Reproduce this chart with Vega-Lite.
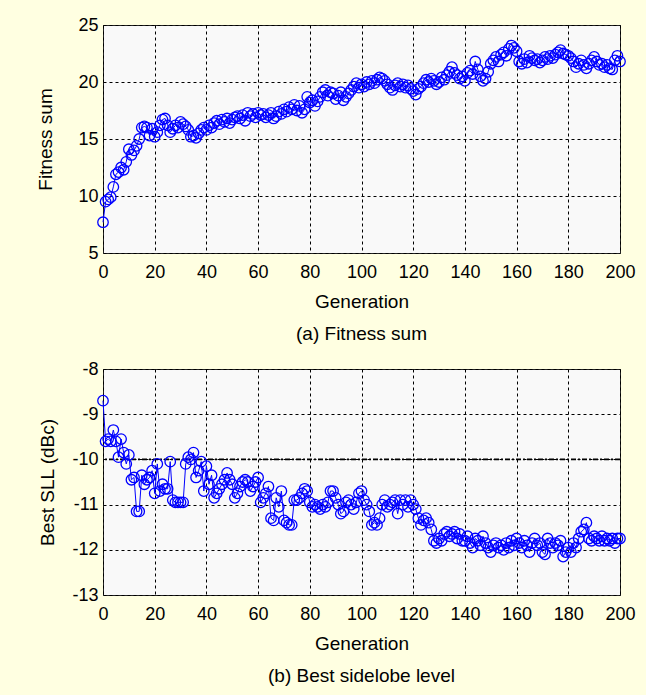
{
  "$schema": "https://vega.github.io/schema/vega-lite/v6.json",
  "background": "#FFFFE1",
  "padding": {"left": 36, "top": 15, "right": 13, "bottom": 12},
  "datasets": {
    "fitness": [
      {"g":0,"v":7.7},{"g":1,"v":9.5},{"g":2,"v":9.7},{"g":3,"v":9.9},{"g":4,"v":10.8},{"g":5,"v":11.9},{"g":6,"v":12.1},{"g":7,"v":12.5},{"g":8,"v":12.3},{"g":9,"v":13.0},
      {"g":10,"v":14.1},{"g":11,"v":13.6},{"g":12,"v":14.0},{"g":13,"v":14.4},{"g":14,"v":15.0},{"g":15,"v":16.0},{"g":16,"v":16.1},{"g":17,"v":16.0},{"g":18,"v":15.3},{"g":19,"v":15.9},
      {"g":20,"v":15.2},{"g":21,"v":15.6},{"g":22,"v":16.2},{"g":23,"v":16.7},{"g":24,"v":16.8},{"g":25,"v":16.2},{"g":26,"v":15.6},{"g":27,"v":15.9},{"g":28,"v":16.2},{"g":29,"v":16.0},
      {"g":30,"v":16.5},{"g":31,"v":16.3},{"g":32,"v":16.1},{"g":33,"v":15.8},{"g":34,"v":15.2},{"g":35,"v":15.3},{"g":36,"v":15.1},{"g":37,"v":15.5},{"g":38,"v":15.8},{"g":39,"v":16.0},
      {"g":40,"v":15.8},{"g":41,"v":16.2},{"g":42,"v":16.0},{"g":43,"v":16.4},{"g":44,"v":16.6},{"g":45,"v":16.3},{"g":46,"v":16.7},{"g":47,"v":16.5},{"g":48,"v":16.8},{"g":49,"v":16.4},
      {"g":50,"v":16.7},{"g":51,"v":16.9},{"g":52,"v":17.0},{"g":53,"v":16.8},{"g":54,"v":17.1},{"g":55,"v":16.6},{"g":56,"v":17.3},{"g":57,"v":17.0},{"g":58,"v":17.2},{"g":59,"v":16.9},
      {"g":60,"v":17.3},{"g":61,"v":17.1},{"g":62,"v":17.2},{"g":63,"v":16.9},{"g":64,"v":17.1},{"g":65,"v":17.3},{"g":66,"v":16.8},{"g":67,"v":17.0},{"g":68,"v":17.4},{"g":69,"v":17.2},
      {"g":70,"v":17.6},{"g":71,"v":17.4},{"g":72,"v":17.8},{"g":73,"v":17.6},{"g":74,"v":18.0},{"g":75,"v":17.5},{"g":76,"v":17.9},{"g":77,"v":17.3},{"g":78,"v":17.6},{"g":79,"v":18.7},
      {"g":80,"v":18.2},{"g":81,"v":18.4},{"g":82,"v":17.9},{"g":83,"v":18.3},{"g":84,"v":18.7},{"g":85,"v":19.1},{"g":86,"v":19.3},{"g":87,"v":18.8},{"g":88,"v":19.1},{"g":89,"v":19.0},
      {"g":90,"v":18.5},{"g":91,"v":18.8},{"g":92,"v":19.1},{"g":93,"v":18.4},{"g":94,"v":18.7},{"g":95,"v":19.0},{"g":96,"v":19.3},{"g":97,"v":19.6},{"g":98,"v":19.9},{"g":99,"v":19.5},
      {"g":100,"v":19.8},{"g":101,"v":19.6},{"g":102,"v":20.0},{"g":103,"v":19.8},{"g":104,"v":20.1},{"g":105,"v":19.9},{"g":106,"v":20.2},{"g":107,"v":20.4},{"g":108,"v":20.3},{"g":109,"v":20.1},
      {"g":110,"v":19.8},{"g":111,"v":19.5},{"g":112,"v":19.3},{"g":113,"v":19.7},{"g":114,"v":19.9},{"g":115,"v":19.6},{"g":116,"v":19.8},{"g":117,"v":19.5},{"g":118,"v":19.7},{"g":119,"v":19.4},
      {"g":120,"v":19.2},{"g":121,"v":18.9},{"g":122,"v":19.4},{"g":123,"v":19.6},{"g":124,"v":19.9},{"g":125,"v":20.2},{"g":126,"v":20.0},{"g":127,"v":20.3},{"g":128,"v":20.1},{"g":129,"v":19.8},
      {"g":130,"v":20.0},{"g":131,"v":20.4},{"g":132,"v":20.2},{"g":133,"v":20.6},{"g":134,"v":20.9},{"g":135,"v":21.3},{"g":136,"v":20.8},{"g":137,"v":20.6},{"g":138,"v":20.3},{"g":139,"v":20.5},
      {"g":140,"v":20.1},{"g":141,"v":20.8},{"g":142,"v":21.0},{"g":143,"v":20.7},{"g":144,"v":21.8},{"g":145,"v":21.1},{"g":146,"v":20.5},{"g":147,"v":20.1},{"g":148,"v":20.3},{"g":149,"v":20.9},
      {"g":150,"v":21.6},{"g":151,"v":21.9},{"g":152,"v":22.2},{"g":153,"v":21.8},{"g":154,"v":22.4},{"g":155,"v":22.6},{"g":156,"v":22.3},{"g":157,"v":22.9},{"g":158,"v":23.2},{"g":159,"v":23.0},
      {"g":160,"v":22.7},{"g":161,"v":21.8},{"g":162,"v":21.6},{"g":163,"v":22.0},{"g":164,"v":21.7},{"g":165,"v":22.3},{"g":166,"v":22.1},{"g":167,"v":21.9},{"g":168,"v":22.0},{"g":169,"v":21.7},
      {"g":170,"v":21.9},{"g":171,"v":22.2},{"g":172,"v":22.0},{"g":173,"v":22.3},{"g":174,"v":22.1},{"g":175,"v":22.4},{"g":176,"v":22.6},{"g":177,"v":22.8},{"g":178,"v":22.5},{"g":179,"v":22.4},
      {"g":180,"v":22.3},{"g":181,"v":22.1},{"g":182,"v":21.8},{"g":183,"v":21.3},{"g":184,"v":21.6},{"g":185,"v":21.9},{"g":186,"v":21.5},{"g":187,"v":21.2},{"g":188,"v":21.6},{"g":189,"v":21.9},
      {"g":190,"v":22.2},{"g":191,"v":21.8},{"g":192,"v":21.5},{"g":193,"v":21.6},{"g":194,"v":21.3},{"g":195,"v":21.5},{"g":196,"v":21.2},{"g":197,"v":21.1},{"g":198,"v":21.9},{"g":199,"v":22.3},
      {"g":200,"v":21.8}
    ],
    "sll": [
      {"g":0,"v":-8.7},{"g":1,"v":-9.6},{"g":2,"v":-9.55},{"g":3,"v":-9.6},{"g":4,"v":-9.35},{"g":5,"v":-9.6},{"g":6,"v":-9.95},{"g":7,"v":-9.55},{"g":8,"v":-9.85},{"g":9,"v":-10.1},
      {"g":10,"v":-9.9},{"g":11,"v":-10.45},{"g":12,"v":-10.4},{"g":13,"v":-11.15},{"g":14,"v":-11.15},{"g":15,"v":-10.35},{"g":16,"v":-10.55},{"g":17,"v":-10.45},{"g":18,"v":-10.4},{"g":19,"v":-10.25},
      {"g":20,"v":-10.75},{"g":21,"v":-10.1},{"g":22,"v":-10.7},{"g":23,"v":-10.55},{"g":24,"v":-10.65},{"g":25,"v":-10.65},{"g":26,"v":-10.05},{"g":27,"v":-10.9},{"g":28,"v":-10.95},{"g":29,"v":-10.95},
      {"g":30,"v":-10.95},{"g":31,"v":-10.95},{"g":32,"v":-10.1},{"g":33,"v":-9.95},{"g":34,"v":-10.0},{"g":35,"v":-9.85},{"g":36,"v":-10.4},{"g":37,"v":-10.25},{"g":38,"v":-10.05},{"g":39,"v":-10.7},
      {"g":40,"v":-10.15},{"g":41,"v":-10.55},{"g":42,"v":-10.35},{"g":43,"v":-10.85},{"g":44,"v":-10.75},{"g":45,"v":-10.65},{"g":46,"v":-10.55},{"g":47,"v":-10.45},{"g":48,"v":-10.3},{"g":49,"v":-10.45},
      {"g":50,"v":-10.55},{"g":51,"v":-10.85},{"g":52,"v":-10.75},{"g":53,"v":-10.6},{"g":54,"v":-10.5},{"g":55,"v":-10.45},{"g":56,"v":-10.5},{"g":57,"v":-10.7},{"g":58,"v":-10.6},{"g":59,"v":-10.5},
      {"g":60,"v":-10.4},{"g":61,"v":-10.95},{"g":62,"v":-10.85},{"g":63,"v":-10.75},{"g":64,"v":-10.6},{"g":65,"v":-11.3},{"g":66,"v":-11.35},{"g":67,"v":-10.85},{"g":68,"v":-11.05},{"g":69,"v":-10.7},
      {"g":70,"v":-11.35},{"g":71,"v":-11.4},{"g":72,"v":-11.45},{"g":73,"v":-11.45},{"g":74,"v":-10.9},{"g":75,"v":-10.9},{"g":76,"v":-10.85},{"g":77,"v":-10.75},{"g":78,"v":-10.65},{"g":79,"v":-10.7},
      {"g":80,"v":-10.95},{"g":81,"v":-11.05},{"g":82,"v":-11.0},{"g":83,"v":-11.05},{"g":84,"v":-11.1},{"g":85,"v":-11.0},{"g":86,"v":-11.05},{"g":87,"v":-10.95},{"g":88,"v":-10.7},{"g":89,"v":-10.7},
      {"g":90,"v":-10.85},{"g":91,"v":-11.0},{"g":92,"v":-11.2},{"g":93,"v":-11.15},{"g":94,"v":-10.95},{"g":95,"v":-10.9},{"g":96,"v":-11.0},{"g":97,"v":-11.1},{"g":98,"v":-10.95},{"g":99,"v":-10.75},
      {"g":100,"v":-10.7},{"g":101,"v":-10.9},{"g":102,"v":-11.0},{"g":103,"v":-11.15},{"g":104,"v":-11.45},{"g":105,"v":-11.4},{"g":106,"v":-11.45},{"g":107,"v":-11.3},{"g":108,"v":-11.0},{"g":109,"v":-10.9},
      {"g":110,"v":-11.05},{"g":111,"v":-11.0},{"g":112,"v":-10.95},{"g":113,"v":-10.9},{"g":114,"v":-11.2},{"g":115,"v":-10.9},{"g":116,"v":-11.0},{"g":117,"v":-10.9},{"g":118,"v":-11.05},{"g":119,"v":-10.9},
      {"g":120,"v":-11.0},{"g":121,"v":-11.1},{"g":122,"v":-11.3},{"g":123,"v":-11.45},{"g":124,"v":-11.35},{"g":125,"v":-11.3},{"g":126,"v":-11.4},{"g":127,"v":-11.55},{"g":128,"v":-11.8},{"g":129,"v":-11.85},
      {"g":130,"v":-11.75},{"g":131,"v":-11.8},{"g":132,"v":-11.65},{"g":133,"v":-11.6},{"g":134,"v":-11.7},{"g":135,"v":-11.65},{"g":136,"v":-11.6},{"g":137,"v":-11.75},{"g":138,"v":-11.65},{"g":139,"v":-11.8},
      {"g":140,"v":-11.8},{"g":141,"v":-11.7},{"g":142,"v":-11.85},{"g":143,"v":-11.95},{"g":144,"v":-11.75},{"g":145,"v":-11.8},{"g":146,"v":-11.9},{"g":147,"v":-11.7},{"g":148,"v":-11.85},{"g":149,"v":-11.95},
      {"g":150,"v":-12.05},{"g":151,"v":-11.9},{"g":152,"v":-11.85},{"g":153,"v":-11.95},{"g":154,"v":-11.9},{"g":155,"v":-12.0},{"g":156,"v":-11.85},{"g":157,"v":-11.95},{"g":158,"v":-11.8},{"g":159,"v":-11.9},
      {"g":160,"v":-11.75},{"g":161,"v":-11.85},{"g":162,"v":-11.95},{"g":163,"v":-11.8},{"g":164,"v":-11.9},{"g":165,"v":-12.05},{"g":166,"v":-11.85},{"g":167,"v":-11.75},{"g":168,"v":-11.9},{"g":169,"v":-11.85},
      {"g":170,"v":-12.05},{"g":171,"v":-12.1},{"g":172,"v":-11.75},{"g":173,"v":-11.85},{"g":174,"v":-11.95},{"g":175,"v":-11.85},{"g":176,"v":-11.9},{"g":177,"v":-11.8},{"g":178,"v":-12.15},{"g":179,"v":-12.05},
      {"g":180,"v":-11.95},{"g":181,"v":-12.05},{"g":182,"v":-11.85},{"g":183,"v":-11.95},{"g":184,"v":-11.75},{"g":185,"v":-11.6},{"g":186,"v":-11.55},{"g":187,"v":-11.4},{"g":188,"v":-11.75},{"g":189,"v":-11.8},
      {"g":190,"v":-11.7},{"g":191,"v":-11.75},{"g":192,"v":-11.8},{"g":193,"v":-11.7},{"g":194,"v":-11.8},{"g":195,"v":-11.75},{"g":196,"v":-11.8},{"g":197,"v":-11.75},{"g":198,"v":-11.85},{"g":199,"v":-11.75},
      {"g":200,"v":-11.75}
    ],
    "ref": [{"y": -10}]
  },
  "config": {
    "font": "Liberation Sans",
    "view": {"fill": "#F9F9F9", "stroke": "#222222", "strokeWidth": 1},
    "axis": {
      "grid": true, "gridColor": "#000000", "gridDash": [3, 3], "gridOpacity": 1, "gridWidth": 1,
      "domain": false, "ticks": false, "labelFlush": false, "labelOverlap": false,
      "labelFontSize": 18, "labelColor": "#000000", "labelFont": "Liberation Sans",
      "titleFontSize": 19, "titleFontWeight": "normal", "titleColor": "#000000", "titleFont": "Liberation Sans",
      "labelExpr": "'' + datum.value"
    },
    "axisX": {"labelPadding": 10, "titlePadding": 11},
    "axisY": {"labelPadding": 5},
    "title": {"fontSize": 19, "fontWeight": "normal", "color": "#000000", "font": "Liberation Sans", "orient": "bottom", "offset": 14},
    "concat": {"spacing": 14}
  },
  "vconcat": [
    {
      "width": 517, "height": 228,
      "title": {"text": "(a) Fitness sum"},
      "data": {"name": "fitness"},
      "encoding": {
        "x": {"field": "g", "type": "quantitative", "scale": {"domain": [0, 200], "nice": false, "padding": 0}, "axis": {"title": "Generation", "values": [0,20,40,60,80,100,120,140,160,180,200]}},
        "y": {"field": "v", "type": "quantitative", "scale": {"domain": [5, 25], "nice": false, "zero": false, "padding": 0}, "axis": {"title": "Fitness sum", "values": [5,10,15,20,25], "titlePadding": 22}}
      },
      "layer": [
        {"mark": {"type": "line", "color": "#0000FF", "strokeWidth": 1}},
        {"mark": {"type": "point", "shape": "circle", "filled": false, "color": "#0000FF", "strokeWidth": 1.3, "size": 110, "opacity": 1}}
      ]
    },
    {
      "width": 517, "height": 226,
      "title": {"text": "(b) Best sidelobe level"},
      "layer": [
        {
          "data": {"name": "ref"},
          "mark": {"type": "rule", "color": "#000000", "strokeWidth": 1.6, "strokeDash": [5, 2, 2, 2]},
          "encoding": {"y": {"field": "y", "type": "quantitative", "scale": {"domain": [-13, -8], "nice": false, "zero": false, "padding": 0}}}
        },
        {
          "data": {"name": "sll"},
          "mark": {"type": "line", "color": "#0000FF", "strokeWidth": 1},
          "encoding": {
            "x": {"field": "g", "type": "quantitative", "scale": {"domain": [0, 200], "nice": false, "padding": 0}, "axis": {"title": "Generation", "values": [0,20,40,60,80,100,120,140,160,180,200]}},
            "y": {"field": "v", "type": "quantitative", "axis": {"title": "Best SLL (dBc)", "values": [-13,-12,-11,-10,-9,-8], "titlePadding": 14}}
          }
        },
        {
          "data": {"name": "sll"},
          "mark": {"type": "point", "shape": "circle", "filled": false, "color": "#0000FF", "strokeWidth": 1.3, "size": 110, "opacity": 1},
          "encoding": {
            "x": {"field": "g", "type": "quantitative"},
            "y": {"field": "v", "type": "quantitative"}
          }
        }
      ]
    }
  ]
}
